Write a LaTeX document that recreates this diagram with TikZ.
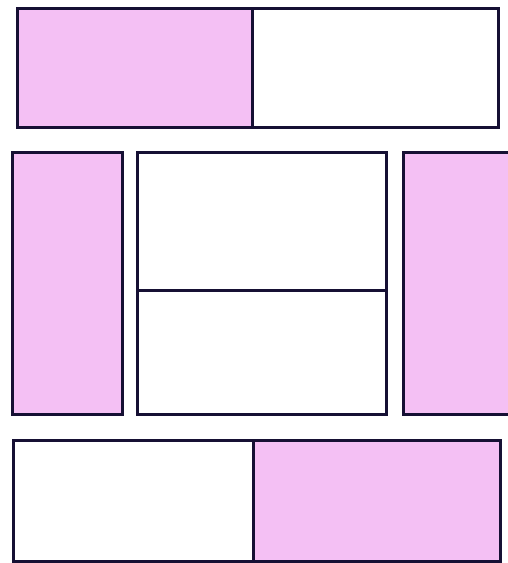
\documentclass[tikz,border=0pt]{standalone}
\usetikzlibrary{positioning}
\definecolor{edge}{RGB}{22,16,52}
\definecolor{pinkfill}{RGB}{244,192,244}
\tikzstyle{cell} = [rectangle, draw=edge, line width=3pt, inner sep=0pt, outer sep=0pt, fill=white]
\tikzstyle{pinkcell} = [cell, fill=pinkfill]

\begin{document}
\begin{tikzpicture}[x=1pt, y=-1pt]

    \useasboundingbox [fill=white] (0,0) rectangle (507,563);

    % Top band
    \node (topleft) [pinkcell, anchor=north west, minimum width=235pt, minimum height=119pt] at (17,8) {};
    \node (topright) [cell, right=0pt of topleft, minimum width=246pt, minimum height=119pt] {};

    % Middle band
    \node (midleft) [pinkcell, anchor=north west, minimum width=110pt, minimum height=262pt] at (12,152) {};
    \node (midtop) [cell, anchor=north west, minimum width=249pt, minimum height=138pt] at (137,152) {};
    \node (midbottom) [cell, below=0pt of midtop, minimum width=249pt, minimum height=124pt] {};
    \node (midright) [pinkcell, anchor=north west, minimum width=112pt, minimum height=262pt] at (403,152) {};

    % Bottom band
    \node (botleft) [cell, anchor=north west, minimum width=240pt, minimum height=121pt] at (13,440) {};
    \node (botright) [pinkcell, right=0pt of botleft, minimum width=247pt, minimum height=121pt] {};

\end{tikzpicture}
\end{document}
